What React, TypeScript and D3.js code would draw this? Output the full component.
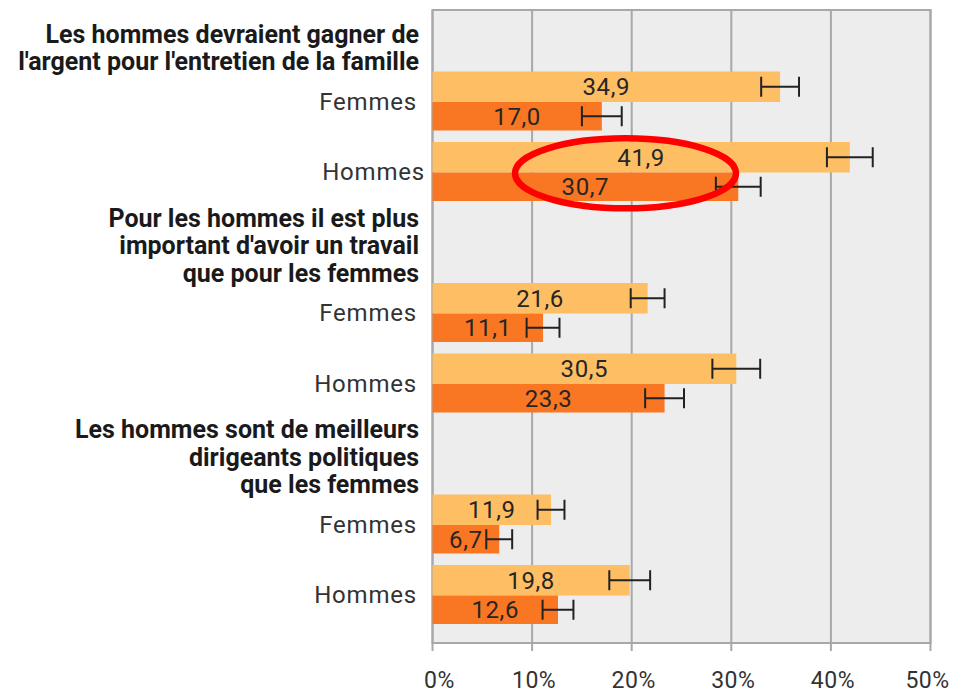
import React from "react";
import * as d3 from "d3";

const titles: string[][] = [
  ["Les hommes devraient gagner de", "l'argent pour l'entretien de la famille"],
  ["Pour les hommes il est plus", "important d'avoir un travail", "que pour les femmes"],
  ["Les hommes sont de meilleurs", "dirigeants politiques", "que les femmes"],
];
const respondents = ["Femmes", "Hommes"];
const lightValues = [34.9, 41.9, 21.6, 30.5, 11.9, 19.8];
const darkValues = [17.0, 30.7, 11.1, 23.3, 6.7, 12.6];
const lightErrors = [1.9, 2.3, 1.7, 2.4, 1.35, 2.05];
const darkErrors = [2.0, 2.25, 1.65, 1.95, 1.3, 1.55];
const xTicks = [0, 10, 20, 30, 40, 50];

const W = 956;
const H = 695;
const plotLeft = 432.5;
const plotRight = 930.5;
const plotTop = 10;
const plotBottom = 643;
const LIGHT = "#FEBE64";
const DARK = "#F97623";
const FONT = "Roboto, 'Noto Sans', sans-serif";
const fmt = (v: number) => v.toFixed(1).replace(".", ",");

export default function App() {
  const x = d3.scaleLinear().domain([0, 50]).range([plotLeft, plotRight]);
  const slot = d3.scaleLinear().domain([0, 9]).range([1, plotBottom - 7.5]);
  const lightH = 30.5;
  const darkH = 28.5;

  const items = lightValues.map((lv, i) => {
    const g = Math.floor(i / 2);
    const r = i % 2;
    const top = slot(g * 3 + 1 + r);
    return { i, g, r, top, lv, dv: darkValues[i], le: lightErrors[i], de: darkErrors[i] };
  });

  const errBar = (v: number, e: number, cy: number, key: string) => (
    <g key={key} stroke="#222" strokeWidth={2}>
      <line x1={x(v - e)} x2={x(v + e)} y1={cy} y2={cy} />
      <line x1={x(v - e)} x2={x(v - e)} y1={cy - 10} y2={cy + 10} />
      <line x1={x(v + e)} x2={x(v + e)} y1={cy - 10} y2={cy + 10} />
    </g>
  );

  return (
    <svg
      width={W}
      height={H}
      style={{ position: "absolute", left: 0, top: 0, display: "block", background: "#fff" }}
      fontFamily={FONT}
    >
      <rect x={plotLeft} y={plotTop} width={plotRight - plotLeft} height={plotBottom - plotTop} fill="#EDEDED" />
      {xTicks.map((t) => (
        <g key={"g" + t}>
          <line x1={x(t)} x2={x(t)} y1={plotTop} y2={plotBottom + 8} stroke="#A8A8A8" strokeWidth={2} />
        </g>
      ))}
      <rect
        x={plotLeft}
        y={plotTop}
        width={plotRight - plotLeft}
        height={plotBottom - plotTop}
        fill="none"
        stroke="#A8A8A8"
        strokeWidth={2}
      />
      {xTicks.map((t) => (
        <text
          key={"t" + t}
          x={t === 0 ? x(t) + 7 : t === 50 ? x(t) - 3 : x(t) + 2}
          y={688}
          textAnchor="middle"
          fontSize={23}
          letterSpacing={0.5}
          fill="#333"
        >
          {t}%
        </text>
      ))}

      {items.map((d) => (
        <g key={"bar" + d.i}>
          <rect x={x(0)} y={d.top} width={x(d.lv) - x(0)} height={lightH} fill={LIGHT} />
          <rect x={x(0)} y={d.top + lightH} width={x(d.dv) - x(0)} height={darkH} fill={DARK} />
        </g>
      ))}
      {items.map((d) => (
        <g key={"lab" + d.i}>
          <text
            x={(x(0) + x(d.lv)) / 2}
            y={d.top + lightH / 2}
            dy="0.36em"
            textAnchor="middle"
            fontSize={24}
            letterSpacing={0.6}
            fill="#262626"
          >
            {fmt(d.lv)}
          </text>
          <text
            x={(x(0) + x(d.dv)) / 2}
            y={d.top + lightH + darkH / 2}
            dy="0.36em"
            textAnchor="middle"
            fontSize={24}
            letterSpacing={0.6}
            fill="#262626"
          >
            {fmt(d.dv)}
          </text>
          {errBar(d.lv, d.le, d.top + lightH / 2, "el" + d.i)}
          {errBar(d.dv, d.de, d.top + lightH + darkH / 2, "ed" + d.i)}
          <text
            x={d.i === 1 ? 425 : 417}
            y={d.top + (lightH + darkH) / 2}
            dy="0.36em"
            textAnchor="end"
            fontSize={24}
            letterSpacing={0.8}
            fill="#333"
          >
            {respondents[d.r]}
          </text>
        </g>
      ))}

      {titles.map((lines, g) => {
        const bottom = slot(g * 3 + 1) - 1.5;
        return (
          <text key={"title" + g} textAnchor="end" fontSize={25} fontWeight="bold" fill="#1a1a1a">
            {lines.map((ln, k) => (
              <tspan key={k} x={419} y={bottom - (lines.length - 1 - k) * 27.5}>
                {ln}
              </tspan>
            ))}
          </text>
        );
      })}

      <ellipse cx={625.5} cy={173.3} rx={110.5} ry={35} fill="none" stroke="#FF0000" strokeWidth={6.5} />
    </svg>
  );
}
